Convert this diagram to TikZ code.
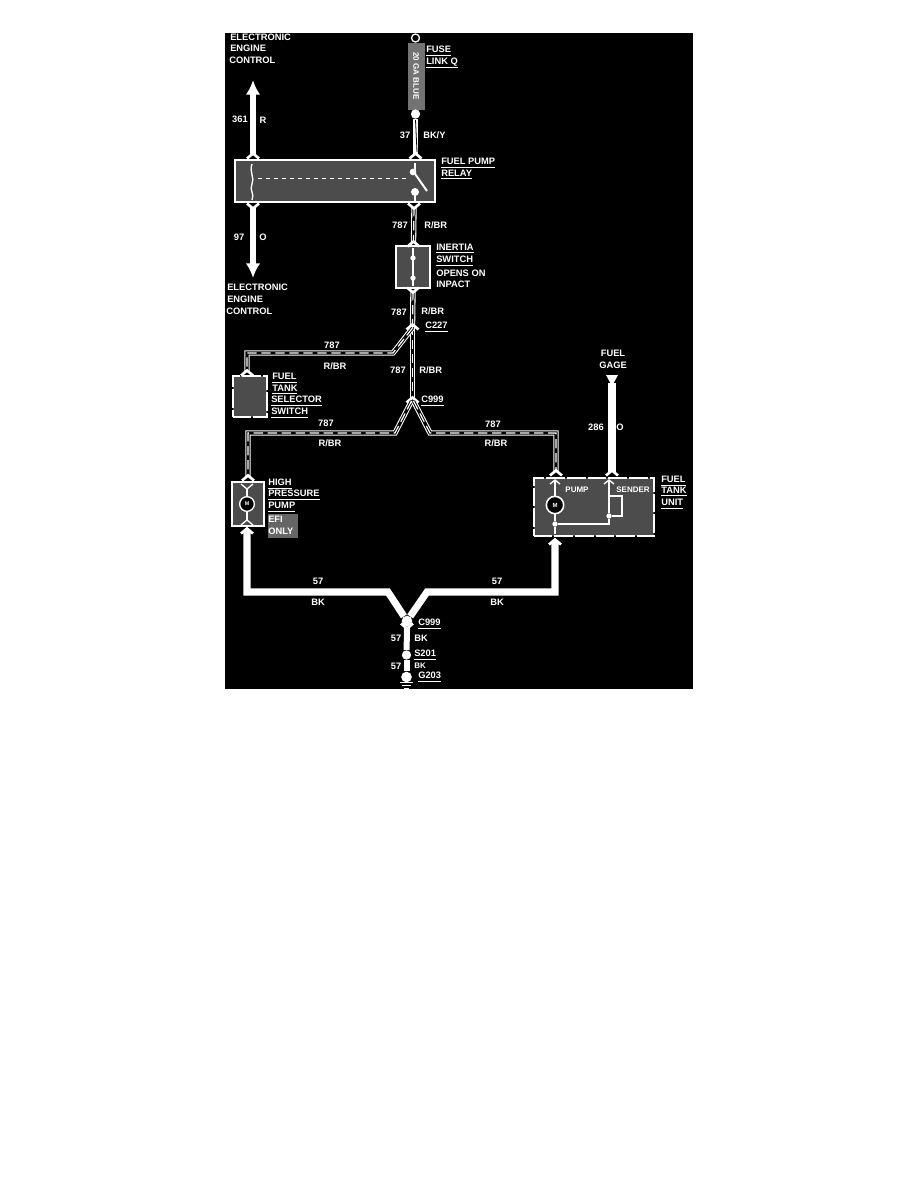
\documentclass[tikz,border=0pt]{standalone}
\usepackage{fontspec}
\setmainfont{Liberation Sans}
\usetikzlibrary{calc,arrows.meta}
\tikzset{
	lbl/.style={text=white,font=\fontsize{7}{8}\selectfont\bfseries,inner sep=0pt},
	tag/.style={lbl,anchor=west},
	dither/.style={fill=#1},
	unit/.style={draw=white,line width=1.5pt,dither=black!70,inner sep=0pt},
	dashunit/.style={unit,dash pattern=on 14pt off 1.5pt},
	heavy/.style={draw=white,line width=4.5pt},
	bigwire/.style={draw=white,line width=5.3pt,line join=miter},
	medium/.style={draw=white,line width=3.5pt},
	stripe/.style={draw=white,line width=4pt,line join=miter,postaction={draw=black,line width=2.4pt},postaction={draw=white,line width=0.9pt,dash pattern=on 7pt off 3.5pt}},
	inner/.style={draw=white,line width=1pt},
	chev/.style={draw=white,line width=2pt},
	blob/.style={circle,fill=white,inner sep=0pt,minimum size=#1}
}
\def\chevup(#1){\draw[chev] (#1) ++(-6,3.5) -- ++(6,-5) -- ++(6,5);}
\def\chevdown(#1){\draw[chev] (#1) ++(-6,-3.5) -- ++(6,5) -- ++(6,-5);}

\begin{document}
\begin{tikzpicture}[x=0.75pt,y=-0.75pt]
	\useasboundingbox (0,0) rectangle (918,1188);
	\fill[black] (225,33) rectangle (693,689);

	%%%%% UNITS %%%%%
	\node[dither=black!55,minimum width=12.5pt,minimum height=50pt,inner sep=0pt] (fuselink) at (416.5,76.5) {};
	\node[unit,minimum width=150pt,minimum height=32pt] (relay) at (335,181) {};
	\node[unit,minimum width=25.5pt,minimum height=31.5pt] (inertia) at (412.5,266.5) {};
	\node[dashunit,minimum width=26pt,minimum height=31pt] (selector) at (250,396.5) {};
	\node[unit,minimum width=24pt,minimum height=33pt] (hpump) at (247.5,503.5) {};
	\node[dashunit,minimum width=90.5pt,minimum height=44pt] (tankunit) at (594,507) {};
	\node[dither=black!60,minimum width=22pt,minimum height=18pt,inner sep=0pt] (efibg) at (283,526) {};

	%%%%% POINTS %%%%%
	\node[circle,draw=white,line width=1pt,minimum size=6pt,inner sep=0pt] (fusetop) at (415.5,38) {};
	\node[blob=7pt] (fusedot) at (415.5,114) {};
	\coordinate (relayin) at (415.5,155);
	\coordinate (relayout) at (414,207);
	\coordinate (inertiain) at (413.5,243);
	\coordinate (inertiaout) at (413,291);
	\coordinate (cup) at (412.5,326);
	\coordinate (clow) at (412.5,399);
	\coordinate (selbend) at (393,353);
	\coordinate (selcorner) at (247,353);
	\coordinate (selin) at (247,372);
	\coordinate (hpbendr) at (395,433);
	\coordinate (hpcorner) at (248,433);
	\coordinate (hpin) at (248,477);
	\coordinate (tkbend) at (430,433);
	\coordinate (tkcorner) at (556,433);
	\coordinate (tkin) at (556,472);
	\coordinate (gagein) at (612,472);
	\coordinate (gagetip) at (612,383);
	\coordinate (eectop) at (253,155);
	\coordinate (eecbot) at (253,207);
	\coordinate (hpout) at (247,530);
	\coordinate (hpelbow) at (247,592);
	\coordinate (botl) at (388,592);
	\coordinate (tkout) at (555,541);
	\coordinate (tkelbow) at (555,592);
	\coordinate (botr) at (427,592);
	\node[blob=8pt] (c999dot) at (407,621) {};
	\coordinate (c999out) at (407,627);
	\node[blob=7pt] (s201) at (406.5,655) {};
	\node[blob=8pt] (g203) at (406.5,677) {};

	%%%%% WIRES %%%%%
	\draw[heavy,-{Latex[length=11pt,width=11pt]}] (eectop) -- (253,80);
	\draw[heavy,-{Latex[length=11pt,width=11pt]}] (eecbot) -- (253,278);
	\chevup(eectop) \chevdown(eecbot)

	\draw[medium] (fusedot) -- (relayin);
	\draw[draw=black,line width=0.6pt] (415.5,120) -- (417,152);
	\chevup(relayin)
	\draw[stripe] (relayout) -- (inertiain);
	\chevdown(relayout) \chevup(inertiain)
	\draw[stripe] (inertiaout) -- (cup);
	\chevdown(inertiaout)
	\draw[stripe] (cup) -- (clow);
	\chevup(cup) \chevup(clow)
	\draw[stripe] (cup) ++(0,2) -- (selbend) -- (selcorner) -- (selin);
	\chevup(selin)
	\draw[stripe] (clow) ++(-1,2) -- (hpbendr) -- (hpcorner) -- (hpin);
	\chevup(hpin)
	\draw[stripe] (clow) ++(1,2) -- (tkbend) -- (tkcorner) -- (tkin);
	\chevup(tkin)

	\draw[bigwire] (gagein) -- (gagetip);
	\fill[white] (606,375) -- (618,375) -- (612,386) -- cycle;
	\chevup(gagein)

	\draw[bigwire] (hpout) -- (hpelbow) -- (botl) -- (c999dot);
	\draw[bigwire] (tkout) -- (tkelbow) -- (botr) -- (c999dot);
	\chevup(hpout) \chevup(tkout)
	\draw[heavy] (c999out) -- (s201);
	\draw[heavy] (s201) -- (g203);
	\chevdown(c999out)
	\draw[draw=white,line width=1pt] (400,682.5) -- (413,682.5);
	\draw[draw=white,line width=1pt] (402,685.5) -- (411,685.5);
	\draw[draw=white,line width=1pt] (404,688.5) -- (409,688.5);

	%%%%% INSIDE RELAY %%%%%
	\draw[inner] (252,164) .. controls (249,172) and (255,178) .. (252,184) .. controls (249,190) and (255,194) .. (252,200);
	\draw[inner,line width=0.7pt,dashed] (258,178) -- (408,178);
	\draw[inner] (415,163) -- (415,172);
	\draw[white,line width=1.5pt] (413,171) -- (427,191);
	\node[blob=5pt] (relaypivot) at (413,172) {};
	\node[blob=6pt] (relaycontact) at (415,192) {};
	\draw[inner] (relaycontact) -- (415,202);

	%%%%% INSIDE INERTIA %%%%%
	\draw[inner,line width=1.5pt] (413,248) -- (413,286);
	\node[blob=4pt] (inertiaa) at (413,258) {};
	\node[blob=4pt] (inertiab) at (413,278) {};

	%%%%% INSIDE HIGH PRESSURE PUMP %%%%%
	\node[circle,draw=white,line width=1pt,fill=black,minimum size=11pt,inner sep=0pt] (hpmotor) at (247,504) {};
	\node[lbl,font=\fontsize{4}{4}\selectfont\bfseries] (hpm) at (247,504) {M};
	\draw[inner] (hpmotor) -- (247,489);
	\draw[inner] (hpmotor) -- (247,520);
	\draw[chev,line width=1pt] (241,484) -- (247,489) -- (253,484);
	\draw[chev,line width=1pt] (241,525) -- (247,520) -- (253,525);

	%%%%% INSIDE TANK UNIT %%%%%
	\node[circle,draw=white,line width=1.2pt,fill=black,minimum size=13pt,inner sep=0pt] (tkmotor) at (555,505) {};
	\node[lbl,font=\fontsize{4.5}{5}\selectfont\bfseries] (tkm) at (555,505) {M};
	\node[blob=4pt] (tkjoin) at (555,524) {};
	\node[blob=4pt] (senddot) at (609,516) {};
	\draw[inner] (555,481) -- (tkmotor);
	\draw[inner] (tkmotor) -- (tkjoin);
	\draw[inner] (tkjoin) -- (555,534);
	\draw[inner] (tkjoin) -- (609,524) -- (senddot) -- (609,481);
	\draw[inner] (609,496) -- (622,496) -- (622,516) -- (senddot);
	\draw[chev,line width=1pt] (550,484) -- (555,480) -- (560,484);
	\draw[chev,line width=1pt] (604,484) -- (609,480) -- (614,484);
	\node[lbl,font=\fontsize{6}{7}\selectfont\bfseries] (tkpump) at (577,490) {PUMP};
	\node[lbl,font=\fontsize{6}{7}\selectfont\bfseries] (tksender) at (633,490) {SENDER};

	%%%%% LABELS %%%%%
	\node[tag] (eeca) at (230,37) {ELECTRONIC};
	\node[tag] (eecb) at (230,48) {ENGINE};
	\node[tag] (eecc) at (229,60) {CONTROL};
	\node[lbl] (n361) at (240,119.5) {361};
	\node[lbl] (cr) at (263,120) {R};
	\node[lbl] (n97) at (239,237) {97};
	\node[lbl] (co) at (263,237) {O};
	\node[tag] (eecd) at (227,287) {ELECTRONIC};
	\node[tag] (eece) at (227,299) {ENGINE};
	\node[tag] (eecf) at (226,311) {CONTROL};

	\node[lbl,rotate=-90,font=\fontsize{6}{7}\selectfont\bfseries] (fusetxt) at (416,76) {20 GA BLUE};
	\node[tag] (fusea) at (426,51) {\underline{FUSE}};
	\node[tag] (fuseb) at (426,63) {\underline{LINK Q}};
	\node[lbl] (n37) at (405,135) {37};
	\node[tag] (cbky) at (423,135) {BK/Y};
	\node[tag] (relaya) at (441,163) {\underline{FUEL PUMP}};
	\node[tag] (relayb) at (441,175) {\underline{RELAY}};
	\node[lbl] (n787a) at (400,225) {787};
	\node[tag] (crbra) at (424,225) {R/BR};
	\node[tag] (ina) at (436,249) {\underline{INERTIA}};
	\node[tag] (inb) at (436,261) {\underline{SWITCH}};
	\node[tag] (inc) at (436,273) {OPENS ON};
	\node[tag] (ind) at (436,284) {INPACT};
	\node[lbl] (n787b) at (399,312) {787};
	\node[tag] (crbrb) at (421,311) {R/BR};
	\node[tag] (c227) at (425,327) {\underline{C227}};

	\node[lbl] (n787c) at (332,345) {787};
	\node[lbl] (crbrc) at (335,366) {R/BR};
	\node[lbl] (n787d) at (398,370) {787};
	\node[tag] (crbrd) at (419,370) {R/BR};
	\node[tag] (sela) at (272,378) {\underline{FUEL}};
	\node[tag] (selb) at (272,390) {\underline{TANK}};
	\node[tag] (selc) at (271,401) {\underline{SELECTOR}};
	\node[tag] (seld) at (271,413) {\underline{SWITCH}};
	\node[tag] (c999a) at (421,401) {\underline{C999}};
	\node[lbl] (n787e) at (326,423) {787};
	\node[lbl] (crbre) at (330,443) {R/BR};
	\node[lbl] (n787f) at (493,424) {787};
	\node[lbl] (crbrf) at (496,443) {R/BR};

	\node[lbl] (gagea) at (613,353) {FUEL};
	\node[lbl] (gageb) at (613,365) {GAGE};
	\node[lbl] (n286) at (596,427) {286};
	\node[lbl] (co2) at (620,427) {O};
	\node[tag] (tka) at (661,481) {\underline{FUEL}};
	\node[tag] (tkb) at (661,492) {\underline{TANK}};
	\node[tag] (tkc) at (661,504) {\underline{UNIT}};

	\node[tag] (hpa) at (268,484) {\underline{HIGH}};
	\node[tag] (hpb) at (268,495) {\underline{PRESSURE}};
	\node[tag] (hpc) at (268,507) {\underline{PUMP}};
	\node[tag] (hpd) at (268,519) {EFI};
	\node[tag] (hpe) at (268,531) {ONLY};

	\node[lbl] (n57a) at (318,581) {57};
	\node[lbl] (cbka) at (318,602) {BK};
	\node[lbl] (n57b) at (497,581) {57};
	\node[lbl] (cbkb) at (497,602) {BK};
	\node[tag] (c999b) at (418,624) {\underline{C999}};
	\node[lbl] (n57c) at (396,638) {57};
	\node[tag] (cbkc) at (414,638) {BK};
	\node[tag] (s201txt) at (414,655) {\underline{S201}};
	\node[lbl] (n57d) at (396,666) {57};
	\node[tag,font=\fontsize{6}{7}\selectfont\bfseries] (cbkd) at (414,666) {BK};
	\node[tag] (g203txt) at (418,677) {\underline{G203}};
\end{tikzpicture}
\end{document}
